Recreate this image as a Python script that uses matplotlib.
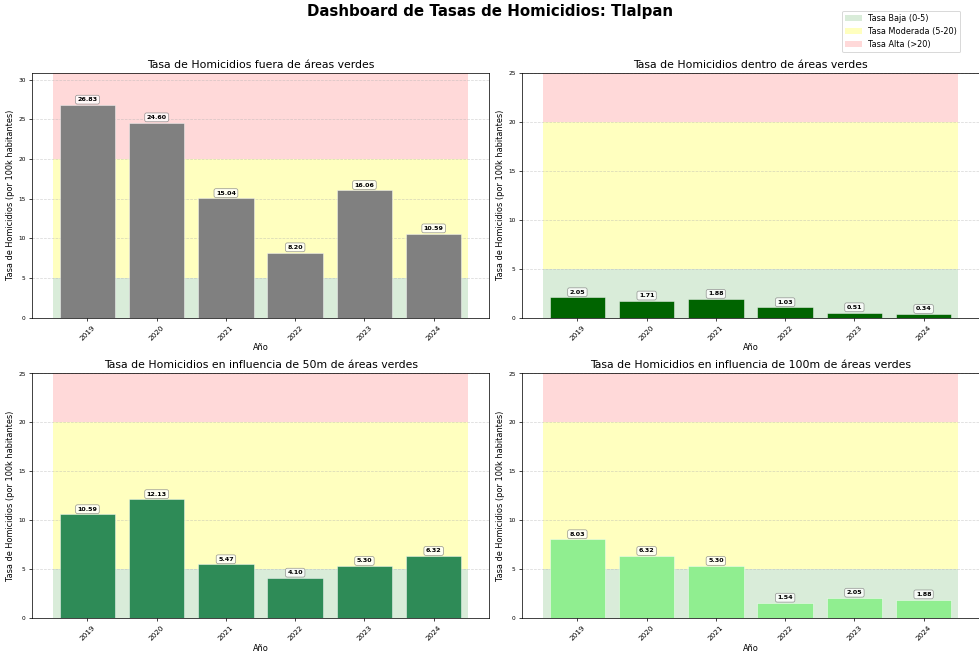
import numpy as np
import matplotlib
matplotlib.use('Agg')
import matplotlib.pyplot as plt
from matplotlib.patches import Patch

# years and rates (per 100k inhabitants)
years = ['2019', '2020', '2021', '2022', '2023', '2024']
fuera = [26.83, 24.60, 15.04, 8.20, 16.06, 10.59]
dentro = [2.05, 1.71, 1.88, 1.03, 0.51, 0.34]
infl_50 = [10.59, 12.13, 5.47, 4.10, 5.30, 6.32]
infl_100 = [8.03, 6.32, 5.30, 1.54, 2.05, 1.88]

titles = ['Tasa de Homicidios fuera de áreas verdes',
          'Tasa de Homicidios dentro de áreas verdes',
          'Tasa de Homicidios en influencia de 50m de áreas verdes',
          'Tasa de Homicidios en influencia de 100m de áreas verdes']
series = [fuera, dentro, infl_50, infl_100]
colors = ['gray', 'darkgreen', 'seagreen', 'lightgreen']

# big figure drawn at low dpi -> 980x655 px
fig, axes = plt.subplots(2, 2, figsize=(15, 10.026), dpi=980 / 15)
fig.subplots_adjust(left=0.0327, right=0.999, top=0.8885, bottom=0.0565,
                    wspace=0.072, hspace=0.229)

x = np.arange(len(years))
for ax, vals, title, c in zip(axes.flat, series, titles, colors):
    top = max(25, max(vals) * 1.15)
    xs = [-0.5, len(years) - 0.5]
    # risk bands
    ax.fill_between(xs, 0, 5, color='green', alpha=0.15, linewidth=0)
    ax.fill_between(xs, 5, 20, color='yellow', alpha=0.25, linewidth=0)
    ax.fill_between(xs, 20, top, color='red', alpha=0.15, linewidth=0)
    bars = ax.bar(x, vals, width=0.8, color=c, edgecolor=(1, 1, 1, 0.6),
                  linewidth=0.8, zorder=3)
    for b, v in zip(bars, vals):
        ax.annotate(f'{v:.2f}', (b.get_x() + b.get_width() / 2, v),
                    xytext=(0, 3), textcoords='offset points',
                    ha='center', va='bottom', fontsize=7, fontweight='bold',
                    zorder=4,
                    bbox=dict(boxstyle='round,pad=0.3', facecolor='white',
                              edgecolor='gray', alpha=0.8, linewidth=0.8))
    ax.set_ylim(0, top)
    ax.set_xticks(x)
    ax.set_xticklabels(years, rotation=45, fontsize=8)
    ax.tick_params(axis='y', labelsize=6.5)
    ax.set_title(title, fontsize=12)
    ax.set_xlabel('Año', fontsize=9, labelpad=2)
    ax.set_ylabel('Tasa de Homicidios (por 100k habitantes)', fontsize=9)
    ax.grid(axis='y', linestyle='--', alpha=0.5, zorder=1)

fig.suptitle('Dashboard de Tasas de Homicidios: Tlalpan', fontsize=16.5,
             fontweight='bold', y=0.994)

handles = [Patch(facecolor='green', alpha=0.15, label='Tasa Baja (0-5)'),
           Patch(facecolor='yellow', alpha=0.25, label='Tasa Moderada (5-20)'),
           Patch(facecolor='red', alpha=0.15, label='Tasa Alta (>20)')]
fig.legend(handles=handles, loc='upper right', bbox_to_anchor=(0.984, 0.99),
           fontsize=9)

fig.savefig('out.png', dpi=980 / 15)
